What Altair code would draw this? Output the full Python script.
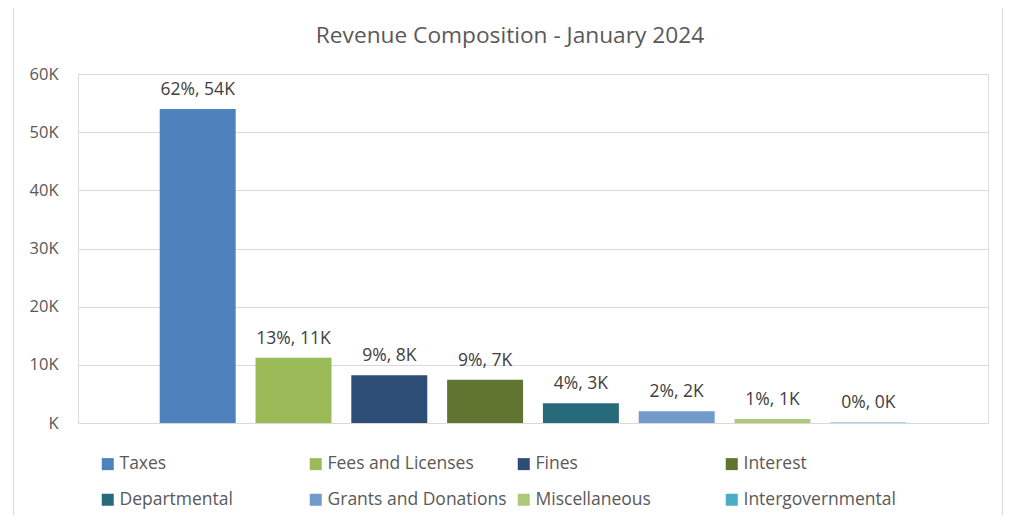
import altair as alt
import pandas as pd

categories = ["Taxes", "Fees and Licenses", "Fines", "Interest", "Departmental",
              "Grants and Donations", "Miscellaneous", "Intergovernmental"]
values = [54000, 11200, 8200, 7450, 3400, 2000, 700, 100]
colors = ["#4F81BD", "#9BBB59", "#2C4D75", "#5F7530", "#276A7C",
          "#729ACA", "#AFC97A", "#4BACC6"]
y_ticks = [0, 10000, 20000, 30000, 40000, 50000, 60000]

total = sum(values)
labels = [f"{round(v / total * 100)}%, {round(v / 1000)}K" for v in values]

df = pd.DataFrame({"cat": categories, "value": values, "label": labels})

FONT = "Open Sans"

base = alt.Chart(df).encode(
    x=alt.X("cat:N", sort=categories, axis=None,
            scale=alt.Scale(paddingInner=0.207, paddingOuter=0.853))
)

bars = base.mark_bar().encode(
    y=alt.Y("value:Q", scale=alt.Scale(domain=[0, 60000]),
            axis=alt.Axis(values=y_ticks, title=None, domain=False, ticks=False,
                          grid=True, gridColor="#d9d9d9", gridWidth=1,
                          labelColor="#595959", labelFontSize=16.5, labelFont=FONT,
                          labelPadding=20,
                          labelExpr="datum.value == 0 ? 'K' : (datum.value / 1000) + 'K'")),
    color=alt.Color("cat:N", sort=categories,
                    scale=alt.Scale(domain=categories, range=colors),
                    legend=alt.Legend(orient="none", legendX=21, legendY=381,
                                      columns=4, direction="horizontal",
                                      gridAlign="all", columnPadding=8, rowPadding=17,
                                      symbolType="square", symbolSize=144,
                                      symbolStrokeWidth=0, symbolOpacity=1,
                                      labelFontSize=17.5, labelFont=FONT,
                                      labelColor="#595959", labelOffset=3,
                                      labelLimit=0, title=None, padding=0))
)

text = base.mark_text(dy=-10, baseline="bottom", fontSize=17.5, font=FONT,
                      color="#404040").encode(
    y=alt.Y("value:Q"),
    text=alt.Text("label:N")
)

frame_df = pd.DataFrame({"a": [0]})
left_edge = alt.Chart(frame_df).mark_rule(color="#d9d9d9", strokeWidth=1).encode(
    x=alt.value(-64.5), y=alt.value(-66), y2=alt.value(441))
right_edge = alt.Chart(frame_df).mark_rule(color="#d9d9d9", strokeWidth=1).encode(
    x=alt.value(924.5), y=alt.value(-66), y2=alt.value(441))

chart = alt.layer(bars, text, left_edge, right_edge).properties(
    width=910, height=349,
    autosize=alt.AutoSizeParams(type="none"),
    padding={"left": 70, "top": 66, "right": 15, "bottom": 92},
    title=alt.TitleParams("Revenue Composition - January 2024", fontSize=22.7,
                          font=FONT, fontWeight="normal", color="#595959",
                          anchor="middle", offset=-40, dx=-23),
).configure_view(stroke=None).configure(background="white")

chart.save("out.html", embed_options={"renderer": "svg", "actions": False})
